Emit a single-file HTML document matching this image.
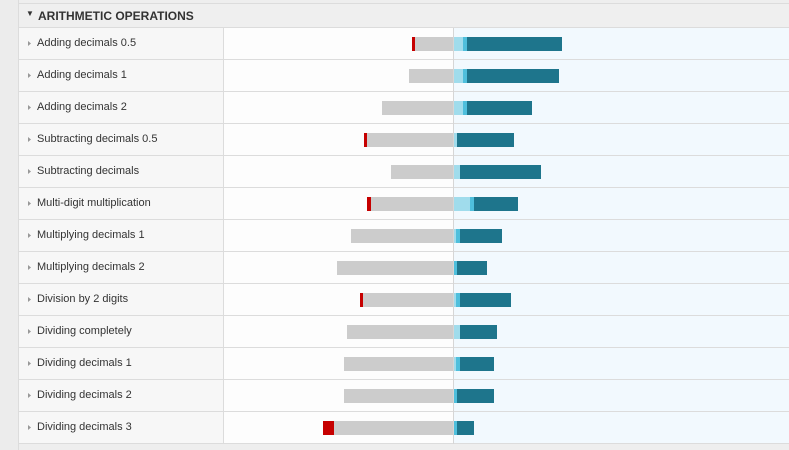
<!DOCTYPE html>
<html><head><meta charset="utf-8"><style>
body{margin:0;width:789px;height:450px;overflow:hidden;background:#eeeeee;font-family:"Liberation Sans",sans-serif;position:relative}
.abs{position:absolute}
</style></head><body>
<div class="abs" style="left:0;top:0;width:18px;height:450px;background:#ececec;border-right:1px solid #dcdcdc"></div>
<div class="abs" style="left:19px;top:3px;width:770px;height:1px;background:#dcdcdc"></div>
<div class="abs" style="left:19px;top:4px;width:770px;height:23px;background:#efefef;border-bottom:1px solid #dcdcdc">
<span style="position:absolute;left:7px;top:5px;font-size:8px;color:#333">▼</span>
<span style="position:absolute;left:19px;top:5px;font-size:12px;font-weight:bold;color:#333">ARITHMETIC OPERATIONS</span>
</div>
<svg class="abs" style="left:0;top:0" width="789" height="450" id="chart"></svg>
<script>
const categories=["Adding decimals 0.5","Adding decimals 1","Adding decimals 2","Subtracting decimals 0.5","Subtracting decimals","Multi-digit multiplication","Multiplying decimals 1","Multiplying decimals 2","Division by 2 digits","Dividing completely","Dividing decimals 1","Dividing decimals 2","Dividing decimals 3"];
const grayVals=[19,22,35.5,43,31,41,51,58,45,53,54.5,54.5,59.5];
const redVals=[1.5,0,0,1.5,0,2,0,0,1.5,0,0,0,5.5];
const lightVals=[5,5,5,2,3.5,8.5,1.5,0,1.5,3.5,1.5,0,0];
const midVals=[2,2,2,0,0,2,2,2,2,0,2,2,2];
const darkVals=[47.5,46,32.5,28.5,40.5,22,21,15,25.5,18.5,17,18.5,8.5];
const svg=document.getElementById('chart');const NS='http://www.w3.org/2000/svg';
const axisX=453,pxPer=2,rowTop=28,rowH=32,barH=14;
const x=v=>axisX+v*pxPer;
function el(t,a,name){const e=document.createElementNS(NS,t);for(const k in a)e.setAttribute(k,a[k]);


svg.appendChild(e);return e;}
const n=categories.length;
el('rect',{x:19,y:rowTop,width:204,height:n*rowH,fill:'#f7f7f7'},'label-column');
el('rect',{x:224,y:rowTop,width:229,height:n*rowH,fill:'#fdfdfd'},'negative-area');
el('rect',{x:454,y:rowTop,width:335,height:n*rowH,fill:'#f2f9fe'},'positive-area');
el('rect',{x:223,y:rowTop,width:1,height:n*rowH,fill:'#dcdcdc'},'column-divider');
categories.forEach((c,i)=>{
 const y0=rowTop+i*rowH;
 el('rect',{x:19,y:y0+rowH-1,width:770,height:1,fill:'#dcdcdc'},'row-separator');
 const by=y0+9;
 let g=x(-grayVals[i]);
 el('rect',{x:g,y:by,width:axisX-g,height:barH,fill:'#cccccc'},'bar-gray');
 if(redVals[i]>0){const r=x(-grayVals[i]-redVals[i]);el('rect',{x:r,y:by,width:g-r,height:barH,fill:'#c60000'},'bar-red');}
 let p=axisX;
 [[lightVals,'#a0dcec','bar-light'],[midVals,'#4fbfdc','bar-mid'],[darkVals,'#1e758c','bar-dark']].forEach(([arr,col,nm])=>{
  const w=arr[i]*pxPer;if(w>0)el('rect',{x:p,y:by,width:w,height:barH,fill:col},nm);p+=w;});
 const ar=el('polygon',{points:`28,${y0+13} 31,${y0+15.5} 28,${y0+18}`,fill:'#999'},'expand-icon');
 const t=el('text',{x:37,y:y0+18,'font-size':11,fill:'#333','font-family':'Liberation Sans, sans-serif'},'row-label');
 t.textContent=c;
});
el('rect',{x:axisX,y:rowTop,width:1,height:n*rowH,fill:'#d6d6d6'},'zero-axis');
</script>
</body></html>
